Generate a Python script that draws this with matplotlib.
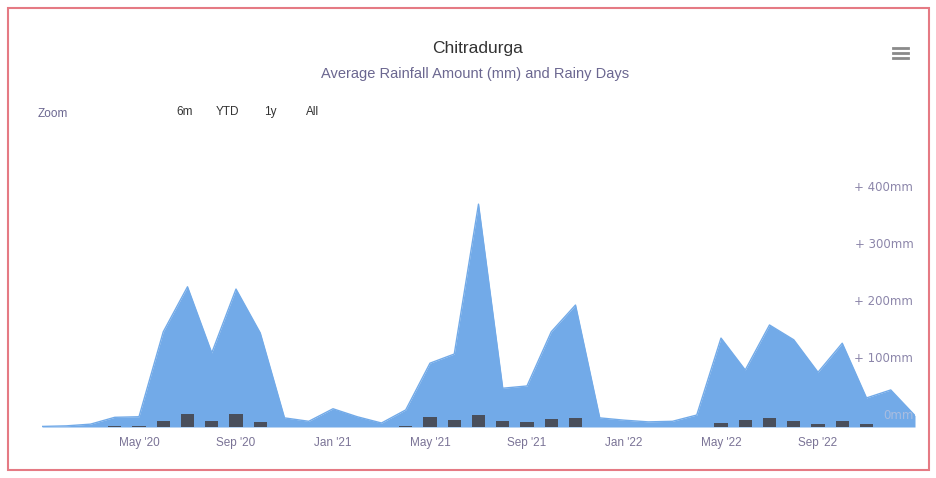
import matplotlib
matplotlib.use("Agg")
import matplotlib.pyplot as plt
from matplotlib.lines import Line2D
from matplotlib.patches import Rectangle
from matplotlib.transforms import offset_copy
import numpy as np

plt.rcParams['font.family'] = ['Liberation Sans', 'DejaVu Sans']

# ---- data (monthly, Jan 2020 .. Jan 2023) ----
months = ["Jan '20", "Feb '20", "Mar '20", "Apr '20", "May '20", "Jun '20", "Jul '20", "Aug '20",
          "Sep '20", "Oct '20", "Nov '20", "Dec '20",
          "Jan '21", "Feb '21", "Mar '21", "Apr '21", "May '21", "Jun '21", "Jul '21", "Aug '21",
          "Sep '21", "Oct '21", "Nov '21", "Dec '21",
          "Jan '22", "Feb '22", "Mar '22", "Apr '22", "May '22", "Jun '22", "Jul '22", "Aug '22",
          "Sep '22", "Oct '22", "Nov '22", "Dec '22", "Jan '23"]
rainfall_mm = [1, 2, 5, 17, 18, 167, 246, 130, 242, 165, 16, 10,
               32, 18, 7, 30, 112, 128, 391, 68, 72, 167, 214, 16,
               12, 9, 10, 21, 156, 100, 179, 153, 96, 147, 51, 65, 20]
rainy_days = [0, 0, 0, 1, 2, 8, 18, 8, 18, 7, 0, 0,
              0, 0, 0, 1, 14, 10, 17, 8, 7, 11, 13, 0,
              0, 0, 0, 0, 6, 10, 13, 8, 4, 8, 4, 0, 0]
tick_labels = ["May '20", "Sep '20", "Jan '21", "May '21", "Sep '21", "Jan '22", "May '22", "Sep '22"]
y_tick_values = [0, 100, 200, 300, 400]

title = "Chitradurga"
subtitle = "Average Rainfall Amount (mm) and Rainy Days"

W, H = 936, 478
fig = plt.figure(figsize=(W / 100, H / 100), dpi=100)
fig.patch.set_facecolor('white')

x = np.arange(len(months))
ax = fig.add_axes([42 / W, 51 / H, (915 - 42) / W, 256.5 / H])
ax.set_xlim(0, len(months) - 1)
ax.set_ylim(0, 450)
ax.fill_between(x, rainfall_mm, 0, color='#72aae8', lw=0, zorder=2)
ax.plot(x, rainfall_mm, color='#72aae8', lw=1, zorder=2)

ax2 = ax.twinx()
ax2.set_ylim(0, 360)
ax2.bar(x, rainy_days, width=0.54, color='#45454d', alpha=0.9, zorder=3)

for a in (ax, ax2):
    for s in a.spines.values():
        s.set_visible(False)
    a.set_yticks([])
    a.patch.set_alpha(0)

tick_pos = [months.index(t) for t in tick_labels]
ax.set_xticks(tick_pos)
ax.set_xticklabels(tick_labels, fontsize=8.5, color='#7a7396')
ax.tick_params(axis='x', length=0, pad=7)

# right-side y labels (sit above their gridline)
lab_tr = offset_copy(ax.get_yaxis_transform(), fig=fig, x=0, y=5, units='dots')
for v in y_tick_values:
    lab = "0mm" if v == 0 else "+ %dmm" % v
    ax2.text(0.998, v, lab, transform=lab_tr, ha='right', va='bottom',
             fontsize=8.5, color='#8c86aa' if v else '#a9bde0', family='DejaVu Sans', zorder=1)

fig.text(478 / W, 1 - 48 / H, title, ha='center', va='center', fontsize=12.5, color='#333333')
fig.text(475 / W, 1 - 74 / H, subtitle, ha='center', va='center', fontsize=10.5, color='#6b6790')

fig.text(38 / W, 1 - 114 / H, "Zoom", ha='left', va='center', fontsize=8.5, color='#6b6790')
for lab, px in [("6m", 185), ("YTD", 227), ("1y", 270), ("All", 313)]:
    fig.text(px / W, 1 - 112 / H, lab, ha='center', va='center', fontsize=8.5, color='#333333')

# menu icon
for yy in (48, 53, 58):
    fig.add_artist(Line2D([893 / W, 908 / W], [1 - yy / H, 1 - yy / H], color='#8a8a8a', lw=2))

# outer border
fig.add_artist(Rectangle((8 / W, 8 / H), (929 - 8) / W, (470 - 8) / H, transform=fig.transFigure,
                         fill=False, edgecolor='#e57a84', lw=1.5))

fig.savefig("out.png", dpi=100)
